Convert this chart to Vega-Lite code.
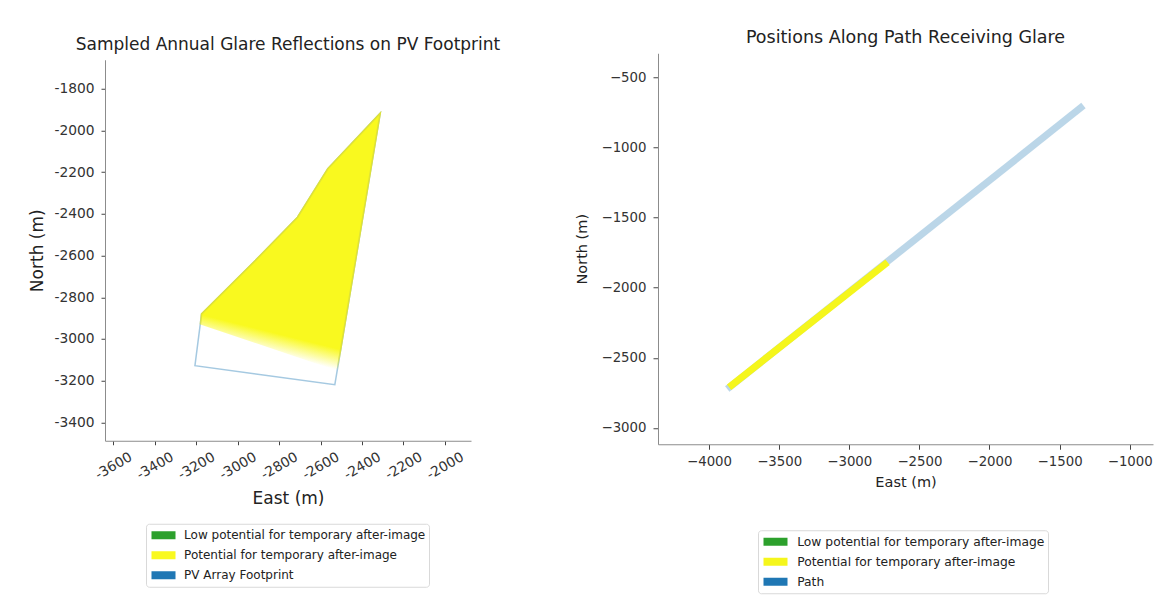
{
  "$schema": "https://vega.github.io/schema/vega-lite/v6.json",
  "background": "white",
  "padding": {"left": 28, "top": 28, "right": 5, "bottom": 5},
  "center": true,
  "config": {
    "font": "DejaVu Sans",
    "view": {"stroke": null},
    "axis": {"grid": false, "domainColor": "#8c8c8c", "domainWidth": 1, "tickColor": "#444", "tickWidth": 1, "labelColor": "#333", "titleColor": "#222", "titleFontWeight": "normal", "labelFont": "DejaVu Sans", "titleFont": "DejaVu Sans", "labelOverlap": false},
    "title": {"font": "DejaVu Sans", "fontWeight": "normal", "color": "#222", "anchor": "middle"},
    "legend": {"orient": "none", "title": null, "symbolType": "M-1.5,0H4.5", "symbolStrokeWidth": 8, "symbolSize": 64, "symbolOpacity": 1, "labelFont": "DejaVu Sans", "labelColor": "#222", "labelLimit": 600, "strokeColor": "#d9d9d9", "fillColor": "white", "padding": 3.5, "cornerRadius": 3, "clipHeight": 16, "rowPadding": 4},
    "concat": {"spacing": 73}
  },
  "resolve": {"scale": {"color": "independent"}, "legend": {"color": "independent"}},
  "hconcat": [
    {
      "width": 366,
      "height": 381,
      "title": {"text": "Sampled Annual Glare Reflections on PV Footprint", "fontSize": 17, "offset": 6},
      "layer": [
        {
          "data": {"values": [
            {"east": -3174, "north": -2880, "i": 0, "category": "PV Array Footprint"},
            {"east": -2907, "north": -2616, "i": 1, "category": "PV Array Footprint"},
            {"east": -2711, "north": -2416, "i": 2, "category": "PV Array Footprint"},
            {"east": -2565, "north": -2184, "i": 3, "category": "PV Array Footprint"},
            {"east": -2312, "north": -1917, "i": 4, "category": "PV Array Footprint"},
            {"east": -2531, "north": -3219, "i": 5, "category": "PV Array Footprint"},
            {"east": -3206, "north": -3128, "i": 6, "category": "PV Array Footprint"},
            {"east": -3174, "north": -2880, "i": 7, "category": "PV Array Footprint"}
          ]},
          "mark": {"type": "line", "strokeWidth": 1.5, "opacity": 0.4},
          "encoding": {
            "x": {"field": "east", "type": "quantitative",
              "scale": {"domain": [-3640, -1874], "nice": false, "zero": false},
              "axis": {"values": [-3600, -3400, -3200, -3000, -2800, -2600, -2400, -2200, -2000], "title": "East (m)", "labelExpr": "'' + datum.value", "labelAngle": -30, "labelAlign": "center", "labelBaseline": "middle", "labelFontSize": 13.8, "labelPadding": 21, "tickSize": 4, "titleFontSize": 17, "titlePadding": 9}},
            "y": {"field": "north", "type": "quantitative",
              "scale": {"domain": [-3488, -1661], "nice": false, "zero": false},
              "axis": {"values": [-3400, -3200, -3000, -2800, -2600, -2400, -2200, -2000, -1800], "title": "North (m)", "labelExpr": "'' + datum.value", "labelFontSize": 13.8, "labelPadding": 7, "tickSize": 4, "titleFontSize": 17, "titlePadding": 7.5}},
            "order": {"field": "i", "type": "quantitative"},
            "color": {"field": "category", "type": "nominal",
              "scale": {"domain": ["Low potential for temporary after-image", "Potential for temporary after-image", "PV Array Footprint"], "range": ["#2ca02c", "#f9f91f", "#1f77b4"]},
              "legend": {"legendX": 41, "legendY": 464, "labelFontSize": 12, "labelOffset": 18.6}}
          }
        },
        {
          "data": {"values": [
            {"east": -3180, "north": -2930, "i": 0},
            {"east": -3174, "north": -2880, "i": 1},
            {"east": -2907, "north": -2616, "i": 2},
            {"east": -2711, "north": -2416, "i": 3},
            {"east": -2565, "north": -2184, "i": 4},
            {"east": -2312, "north": -1917, "i": 5},
            {"east": -2520, "north": -3152, "i": 6}
          ]},
          "mark": {"type": "line", "strokeWidth": 1.6,
            "fill": {"gradient": "linear", "x1": 0.6, "y1": 0, "x2": 0.425, "y2": 1, "stops": [
              {"offset": 0, "color": "#f9f91f"}, {"offset": 0.86, "color": "#f9f91f"}, {"offset": 0.94, "color": "rgba(249,249,31,0)"}, {"offset": 1, "color": "rgba(249,249,31,0)"}]},
            "stroke": {"gradient": "linear", "x1": 0.6, "y1": 0, "x2": 0.425, "y2": 1, "stops": [
              {"offset": 0, "color": "#dfe236"}, {"offset": 0.86, "color": "#dfe236"}, {"offset": 0.94, "color": "rgba(223,226,54,0)"}, {"offset": 1, "color": "rgba(223,226,54,0)"}]}
          },
          "encoding": {
            "x": {"field": "east", "type": "quantitative"},
            "y": {"field": "north", "type": "quantitative"},
            "order": {"field": "i", "type": "quantitative"}
          }
        }
      ]
    },
    {
      "width": 495,
      "height": 391,
      "title": {"text": "Positions Along Path Receiving Glare", "fontSize": 17.5, "offset": 7},
      "layer": [
        {
          "data": {"values": [
            {"east": -3870, "north": -2722, "category": "Path"},
            {"east": -1330, "north": -702, "category": "Path"}
          ]},
          "mark": {"type": "line", "strokeWidth": 7, "opacity": 0.3, "strokeCap": "butt"},
          "encoding": {
            "x": {"field": "east", "type": "quantitative",
              "scale": {"domain": [-4364, -834], "nice": false, "zero": false},
              "axis": {"values": [-4000, -3500, -3000, -2500, -2000, -1500, -1000], "title": "East (m)", "labelExpr": "replace('' + datum.value, '-', '−')", "labelFontSize": 13.3, "labelPadding": 5, "tickSize": 5, "titleFontSize": 14.5, "titlePadding": 8}},
            "y": {"field": "north", "type": "quantitative",
              "scale": {"domain": [-3116, -329], "nice": false, "zero": false},
              "axis": {"values": [-3000, -2500, -2000, -1500, -1000, -500], "title": "North (m)", "labelExpr": "replace('' + datum.value, '-', '−')", "labelFontSize": 13.3, "labelPadding": 7, "tickSize": 5, "titleFontSize": 14.5, "titlePadding": 12}},
            "color": {"field": "category", "type": "nominal",
              "scale": {"domain": ["Low potential for temporary after-image", "Potential for temporary after-image", "Path"], "range": ["#2ca02c", "#f5f61c", "#1f77b4"]},
              "legend": {"legendX": 100, "legendY": 477, "labelFontSize": 12.3, "labelOffset": 19.7}}
          }
        },
        {
          "data": {"values": [
            {"east": -3857, "north": -2710, "category": "Potential for temporary after-image"},
            {"east": -2727, "north": -1818, "category": "Potential for temporary after-image"}
          ]},
          "mark": {"type": "line", "strokeWidth": 7, "strokeCap": "butt"},
          "encoding": {
            "x": {"field": "east", "type": "quantitative"},
            "y": {"field": "north", "type": "quantitative"},
            "color": {"field": "category", "type": "nominal"}
          }
        }
      ]
    }
  ]
}
